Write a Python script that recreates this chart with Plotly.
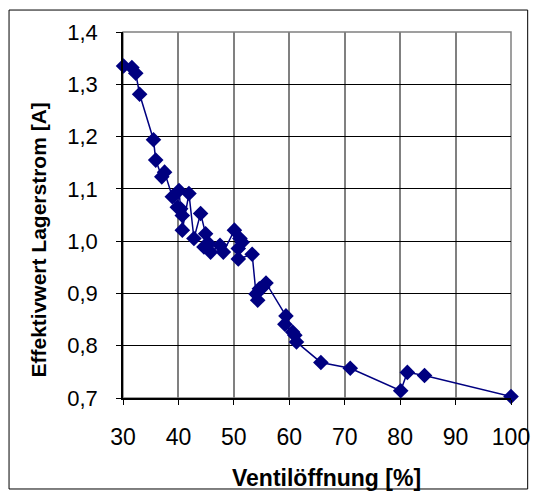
import plotly.graph_objects as go

ventil = [30.1, 31.6, 32.3, 33.0, 35.5, 35.9, 37.0, 37.5, 38.9, 39.8, 40.1, 40.4, 40.7, 40.7,
          41.9, 42.8, 44.0, 44.9, 44.6, 45.5, 45.8, 47.5, 48.1, 50.1, 51.1, 51.5, 50.8, 50.8,
          53.3, 54.0, 54.3, 54.6, 55.2, 55.8, 59.4, 59.2, 60.6, 61.0, 61.3, 65.7, 71.0,
          80.1, 81.3, 84.4, 100.0]
strom = [1.335, 1.332, 1.321, 1.281, 1.194, 1.155, 1.123, 1.132, 1.085, 1.065, 1.097, 1.062,
         1.049, 1.021, 1.091, 1.005, 1.053, 1.014, 0.989, 0.995, 0.979, 0.992, 0.979, 1.021,
         1.005, 0.998, 0.986, 0.966, 0.975, 0.899, 0.887, 0.909, 0.912, 0.920, 0.857, 0.841,
         0.826, 0.820, 0.807, 0.768, 0.757, 0.714, 0.749, 0.743, 0.703]

x_ticks = [30, 40, 50, 60, 70, 80, 90, 100]
y_ticks = [0.7, 0.8, 0.9, 1.0, 1.1, 1.2, 1.3, 1.4]
x_title = "Ventilöffnung [%]"
y_title = "Effektivwert Lagerstrom [A]"

navy = "#000080"
font = "Liberation Sans, Arial, sans-serif"

fig = go.Figure()
fig.add_trace(go.Scatter(
    x=ventil, y=strom, mode="lines+markers",
    line=dict(color=navy, width=1.5),
    marker=dict(symbol="diamond", size=12, color=navy),
    cliponaxis=False, showlegend=False,
))

fig.update_layout(
    width=542, height=496,
    margin=dict(l=123, r=24, t=32, b=98),
    paper_bgcolor="white", plot_bgcolor="white",
    separators=",.",
    font=dict(family=font, color="black", size=22),
    xaxis=dict(
        range=[30, 100], tickvals=x_ticks, ticks="outside", ticklen=5, tickcolor="black",
        showgrid=True, gridcolor="#808080", gridwidth=2,
        showline=True, linecolor="black", linewidth=1.5, mirror=False,
        zeroline=False, tickfont=dict(size=23), ticklabelstandoff=13,
    ),
    yaxis=dict(
        range=[0.7, 1.4], tickvals=y_ticks, tickformat=".1f", ticks="outside", ticklen=5,
        tickcolor="black",
        showgrid=True, gridcolor="black", gridwidth=1,
        showline=True, linecolor="black", linewidth=1.5,
        zeroline=False, tickfont=dict(size=22), ticklabelstandoff=14,
    ),
    annotations=[
        dict(text="<b>" + x_title + "</b>", xref="paper", yref="paper", x=0.524, y=-0.2186,
             xanchor="center", yanchor="middle", showarrow=False, font=dict(size=23)),
        dict(text="<b>" + y_title + "</b>", xref="paper", yref="paper", x=-0.2177, y=0.4317,
             xanchor="center", yanchor="middle", showarrow=False, textangle=-90,
             font=dict(size=21)),
    ],
    shapes=[
        dict(type="rect", xref="paper", yref="paper", x0=0, x1=1, y0=0, y1=1,
             line=dict(color="#808080", width=1.5), layer="below"),
        dict(type="rect", xref="paper", yref="paper", x0=-0.2937, x1=1.043, y0=-0.2486, y1=1.060,
             line=dict(color="black", width=1)),
    ],
)

fig.write_html("out.html", post_script="document.body.style.margin='0';",
               config={"displayModeBar": False})
